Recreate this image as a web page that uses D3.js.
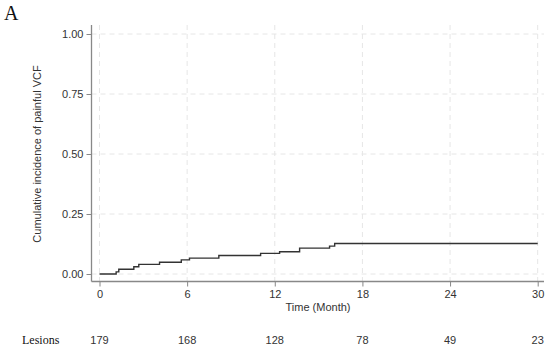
<!DOCTYPE html>
<html>
<head>
    <meta charset="utf-8">
    <title>Cumulative incidence of painful VCF</title>
    <script src="https://d3js.org/d3.v7.min.js"></script>
    <style>
        body { margin: 0; background: #fff; }
        svg text { font-family: 'Liberation Sans', Arial, sans-serif; }
        .serif { font-family: 'Liberation Serif', 'Times New Roman', serif !important; }
    </style>
</head>
<body>
    <svg id="chart" width="550" height="353"></svg>

    <script>
        // step curve
        const times = [0, 1.14, 1.32, 2.35, 2.69, 4.11, 5.6, 6.16, 8.17, 11.03, 12.33, 13.7, 15.75, 16.1, 30];
        const incidence = [0, 0.009, 0.020, 0.030, 0.040, 0.049, 0.059, 0.066, 0.077, 0.086, 0.093, 0.108, 0.116, 0.127, 0.127];

        const xTicks = [0, 6, 12, 18, 24, 30];
        const yTicks = [0, 0.25, 0.5, 0.75, 1];
        const atRisk = [179, 168, 128, 78, 49, 23];

        let svg = d3.select("#chart");

        let x = d3.scaleLinear().domain([0, 30]).range([99.5, 537.7]);
        let y = d3.scaleLinear().domain([0, 1]).range([274, 34]);

        const plotLeft = 91.5, plotRight = 544, plotTop = 25, plotBottom = 281.5;

        // grid
        svg.append("g").selectAll("line").data(yTicks).enter().append("line")
            .attr("x1", plotLeft).attr("x2", plotRight)
            .attr("y1", d => y(d)).attr("y2", d => y(d))
            .attr("stroke", "#e6e6e6").attr("stroke-dasharray", "5,4");
        svg.append("g").selectAll("line").data(xTicks).enter().append("line")
            .attr("x1", d => x(d)).attr("x2", d => x(d))
            .attr("y1", plotTop).attr("y2", plotBottom)
            .attr("stroke", "#e6e6e6").attr("stroke-dasharray", "5,4");

        // y axis
        let yAxis = svg.append("g").attr("transform", `translate(${plotLeft},0)`)
            .call(d3.axisLeft(y).tickValues(yTicks).tickFormat(d3.format(".2f")).tickSize(5).tickPadding(3));
        yAxis.select(".domain").attr("d", `M0,${plotTop}V${plotBottom}`).attr("stroke", "#888").attr("stroke-width", 1.3);

        // x axis
        let xAxis = svg.append("g").attr("transform", `translate(0,${plotBottom})`)
            .call(d3.axisBottom(x).tickValues(xTicks).tickSize(5).tickPadding(4));
        xAxis.select(".domain").attr("d", `M${plotLeft},0H${plotRight}`).attr("stroke", "#888").attr("stroke-width", 1.3);

        svg.selectAll(".tick line").attr("stroke", "#888");
        svg.selectAll(".tick text").attr("fill", "#333").style("font-size", "11px");

        // curve
        let pts = times.map((t, i) => [t, incidence[i]]);
        let line = d3.line().x(d => x(d[0])).y(d => y(d[1])).curve(d3.curveStepAfter);
        svg.append("path").datum(pts)
            .attr("d", line)
            .attr("fill", "none")
            .attr("stroke", "#333")
            .attr("stroke-width", 1.4);

        // titles
        svg.append("text")
            .attr("x", 318).attr("y", 311)
            .attr("text-anchor", "middle")
            .attr("fill", "#333").style("font-size", "11px")
            .text("Time (Month)");

        svg.append("text")
            .attr("transform", "translate(41,154) rotate(-90)")
            .attr("text-anchor", "middle")
            .attr("fill", "#333").style("font-size", "11px")
            .text("Cumulative incidence of painful VCF");

        // number at risk
        svg.append("text").attr("class", "serif")
            .attr("x", 22).attr("y", 344)
            .style("font-size", "12px").attr("fill", "#111")
            .text("Lesions");
        svg.append("g").selectAll("text").data(atRisk).enter().append("text")
            .attr("x", (d, i) => x(xTicks[i])).attr("y", 344)
            .attr("text-anchor", "middle")
            .attr("fill", "#333").style("font-size", "11px")
            .text(d => d);

        // panel letter
        svg.append("text").attr("class", "serif")
            .attr("x", 4).attr("y", 20)
            .style("font-size", "20px").attr("fill", "#111")
            .text("A");
    </script>
</body>
</html>
